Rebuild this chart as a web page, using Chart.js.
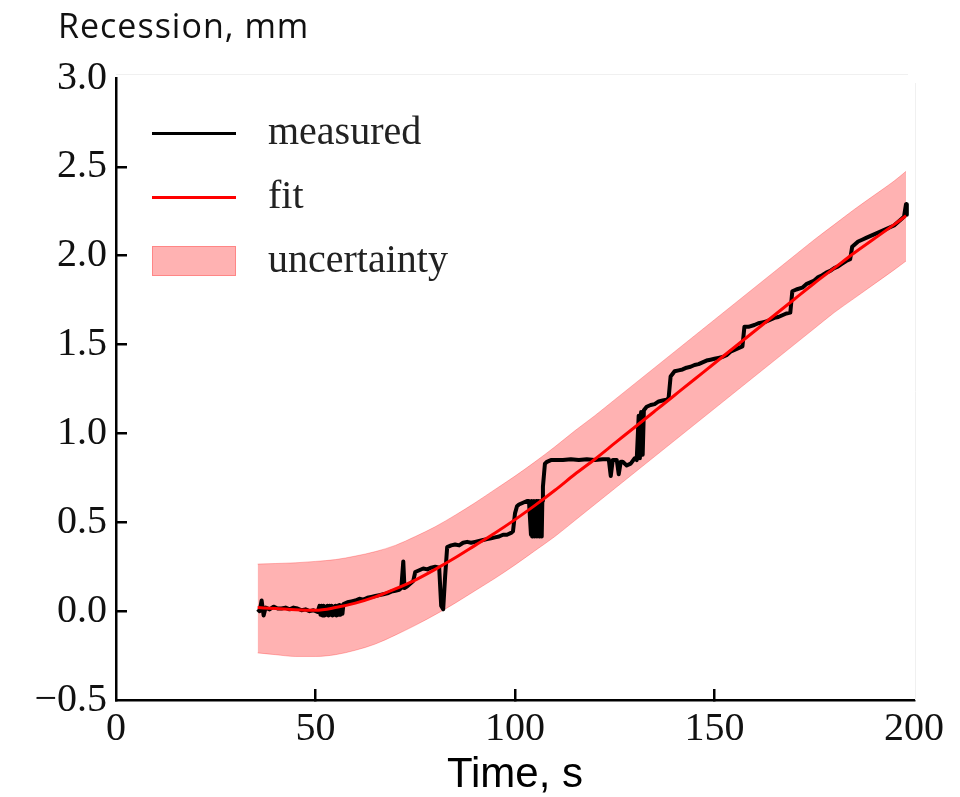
<!DOCTYPE html>
<html>
<head>
<meta charset="utf-8">
<script src="https://cdn.jsdelivr.net/npm/chart.js@4.4.1/dist/chart.umd.min.js"></script>
<style>
  html, body { margin: 0; padding: 0; background: #ffffff; }
  #wrap { width: 960px; height: 797px; }
</style>
</head>
<body>
<div id="wrap"><canvas id="c" width="960" height="797"></canvas></div>
<script>
// ---------------- data ----------------
const yAxisTitle = 'Recession, mm';
const xAxisTitle = 'Time, s';
const seriesLabels = ['measured', 'fit', 'uncertainty'];
const xTicks = [0, 50, 100, 150, 200];
const yTicks = [-0.5, 0.0, 0.5, 1.0, 1.5, 2.0, 2.5, 3.0];

const measuredTime = [
  35.5, 36.0, 36.5, 37.0, 37.5, 38.5, 39.5, 40.5, 41.5, 42.5, 43.5, 44.5, 45.5, 46.5, 47.5, 48.5, 49.5, 50.5,
  51.0, 51.25, 51.5, 51.75, 52.0, 52.25, 52.5, 52.75, 53.0, 53.25, 53.5, 53.75, 54.0, 54.25, 54.5, 54.75,
  55.0, 55.25, 55.5, 55.75, 56.0, 56.25, 56.5, 56.75, 57.0, 58.0, 59.0, 60.0,
  61.0, 62.0, 63.0, 64.0, 65.0, 66.0, 67.0, 68.0, 69.0, 70.0, 71.0, 71.5, 72.0, 72.3, 73.0, 74.0, 74.5,
  75.0, 76.0, 77.0, 78.0, 79.0, 80.0, 81.0, 81.5, 82.0, 82.5, 83.0, 84.0, 85.0, 86.0, 87.0, 88.0, 89.0,
  90.0, 91.0, 92.0, 93.0, 94.0, 95.0, 96.0, 97.0, 98.0, 99.0, 99.5, 100.0, 100.5, 101.0, 102.0, 103.0,
  103.5, 104.0, 104.15, 104.3, 104.45, 104.6, 104.75, 104.9, 105.05, 105.2, 105.35, 105.5, 105.65, 105.8,
  105.95, 106.1, 106.25, 106.4, 106.55, 106.7, 106.85, 107.0, 107.5, 108.0,
  109.0, 110.0, 112.0, 114.0, 116.0, 118.0, 120.0, 122.0, 123.5, 124.0, 124.5, 125.5, 126.0, 126.5,
  127.0, 128.0, 129.0, 130.0, 130.5, 131.0, 131.3, 131.6, 132.0, 132.3, 133.0, 134.0, 135.0, 136.0,
  137.0, 138.0, 138.5, 139.0, 140.0, 141.0, 142.0, 143.0, 144.0, 145.0, 146.0, 147.0, 148.0, 149.0,
  150.0, 151.0, 152.0, 153.0, 154.0, 155.0, 156.0, 157.0, 157.5, 158.5, 160.0, 161.0, 162.0, 163.0,
  164.0, 165.0, 166.0, 167.0, 168.0, 169.0, 169.5, 170.5, 172.0, 173.0, 174.0, 175.0, 176.0, 177.0,
  178.0, 179.0, 180.0, 181.0, 182.0, 183.0, 184.0, 184.5, 185.0, 186.0, 187.0, 188.0, 189.0, 190.0,
  191.0, 192.0, 193.0, 194.0, 195.0, 196.0, 197.0, 197.5, 198.0, 198.2
];
const measuredRecession = [
  0.01, 0.00, 0.06, -0.025, 0.02, 0.01, 0.025, 0.015, 0.015, 0.02, 0.01, 0.02, 0.015, 0.005, 0.01, 0.0, 0.005, -0.005,
  0.03, -0.02, 0.03, -0.025, 0.03, -0.025, 0.025, -0.02, 0.03, -0.025, 0.03, -0.02, 0.03, -0.025, 0.025, -0.02,
  0.03, -0.025, 0.03, -0.02, 0.035, -0.02, 0.03, -0.015, 0.04, 0.05, 0.055, 0.06,
  0.07, 0.065, 0.075, 0.08, 0.085, 0.09, 0.095, 0.10, 0.11, 0.115, 0.12, 0.13, 0.28, 0.13, 0.14, 0.16, 0.17,
  0.22, 0.23, 0.24, 0.235, 0.245, 0.25, 0.245, 0.03, 0.01, 0.20, 0.36, 0.37, 0.375, 0.37, 0.385, 0.39, 0.385,
  0.39, 0.395, 0.40, 0.405, 0.41, 0.415, 0.42, 0.43, 0.43, 0.44, 0.45, 0.55, 0.59, 0.60, 0.61, 0.62,
  0.62, 0.43, 0.62, 0.42, 0.61, 0.43, 0.62, 0.42, 0.61, 0.43, 0.62, 0.42, 0.61, 0.43,
  0.62, 0.42, 0.61, 0.43, 0.62, 0.42, 0.62, 0.70, 0.83, 0.84,
  0.85, 0.85, 0.85, 0.855, 0.85, 0.855, 0.85, 0.855, 0.855, 0.76, 0.85, 0.85, 0.77, 0.84,
  0.84, 0.82, 0.83, 0.86, 0.85, 1.10, 0.86, 1.12, 0.88, 1.13, 1.15, 1.16, 1.165, 1.18,
  1.185, 1.19, 1.20, 1.32, 1.35, 1.355, 1.36, 1.37, 1.375, 1.385, 1.39, 1.40, 1.41, 1.415,
  1.42, 1.425, 1.43, 1.44, 1.46, 1.47, 1.48, 1.49, 1.60, 1.60, 1.61, 1.62, 1.625, 1.63,
  1.64, 1.65, 1.655, 1.665, 1.675, 1.68, 1.80, 1.81, 1.82, 1.84, 1.85, 1.86, 1.88, 1.89,
  1.905, 1.915, 1.93, 1.94, 1.955, 1.97, 1.98, 2.05, 2.06, 2.08, 2.09, 2.10, 2.11, 2.12,
  2.13, 2.14, 2.15, 2.16, 2.17, 2.19, 2.21, 2.22, 2.29, 2.23
];

const fitTime = [35.5, 40, 45, 50, 55, 60, 65, 70, 75, 80, 85, 90, 95, 100, 105, 110, 115, 120, 125, 130,
  135, 140, 145, 150, 155, 160, 165, 170, 175, 180, 185, 190, 195, 198];
const fitRecession = [0.02, 0.015, 0.008, 0.005, 0.02, 0.045, 0.08, 0.125, 0.175, 0.235, 0.30, 0.37, 0.44,
  0.515, 0.595, 0.68, 0.77, 0.855, 0.945, 1.035, 1.125, 1.215, 1.305, 1.395, 1.485, 1.575, 1.665, 1.755,
  1.845, 1.93, 2.015, 2.095, 2.175, 2.225];
const bandUpper = [0.265, 0.268, 0.272, 0.28, 0.29, 0.31, 0.335, 0.37, 0.42, 0.475, 0.54, 0.61, 0.685, 0.76,
  0.84, 0.925, 1.015, 1.10, 1.19, 1.28, 1.37, 1.46, 1.55, 1.64, 1.73, 1.82, 1.91, 2.0, 2.09, 2.175, 2.26,
  2.34, 2.42, 2.475];
const bandLower = [-0.235, -0.245, -0.255, -0.255, -0.245, -0.22, -0.185, -0.135, -0.08, -0.02, 0.045, 0.115,
  0.185, 0.26, 0.34, 0.42, 0.51, 0.60, 0.69, 0.78, 0.87, 0.96, 1.05, 1.14, 1.23, 1.32, 1.41, 1.50, 1.59,
  1.68, 1.76, 1.84, 1.92, 1.97];

// ---------------- build ----------------
const toXY = (xs, ys) => xs.map((x, i) => ({ x: x, y: ys[i] }));
const serif = '"Liberation Serif", "DejaVu Serif", serif';
const BLACK = '#000000', RED = '#ff0000', PINK = 'rgba(255,0,0,0.3)', PINK_EDGE = 'rgba(255,0,0,0.25)';

// legend marker images (84 px wide handles, like the reference legend)
function markerLine(color) {
  const c = document.createElement('canvas'); c.width = 84; c.height = 3;
  const g = c.getContext('2d'); g.fillStyle = color; g.fillRect(0, 0, 84, 3); return c;
}
function markerPatch(fill, edge) {
  const c = document.createElement('canvas'); c.width = 84; c.height = 30;
  const g = c.getContext('2d'); g.fillStyle = fill; g.fillRect(0, 0, 84, 30);
  g.strokeStyle = edge; g.lineWidth = 1; g.strokeRect(0.5, 0.5, 83, 29); return c;
}
const legendMarkers = [markerLine(BLACK), markerLine(RED), markerPatch(PINK, PINK_EDGE)];

const extrasPlugin = {
  id: 'extras',
  afterLayout(chart) {
    // place the legend block inside the axes like the reference
    const lg = chart.legend, a = chart.chartArea;
    if (lg && a) {
      const h = lg.height, w = lg.width;
      lg.left = a.left; lg.top = a.top + 11;
      lg.right = lg.left + w; lg.bottom = lg.top + h;
    }
  },
  beforeDatasetsDraw(chart) {
    const { ctx, chartArea: a } = chart;
    ctx.save();
    ctx.strokeStyle = '#f0f0f0';
    ctx.lineWidth = 1;
    ctx.beginPath();
    ctx.moveTo(a.left, a.top - 3.5); ctx.lineTo(a.right - 6, a.top - 3.5);
    ctx.moveTo(a.right + 1.5, a.top + 5); ctx.lineTo(a.right + 1.5, a.bottom);
    ctx.stroke();
    ctx.restore();
  },
  afterDraw(chart) {
    const ctx = chart.ctx;
    ctx.save();
    ctx.font = '34px "Open Sans", "Noto Sans", sans-serif';
    try { ctx.letterSpacing = '1px'; } catch (e) {}
    ctx.fillStyle = '#111';
    ctx.textBaseline = 'alphabetic';
    ctx.textAlign = 'left';
    ctx.fillText(yAxisTitle, 58, 38);
    ctx.restore();
  }
};

const fmtY = v => (v < 0 ? '\u2212' : '') + Math.abs(v).toFixed(1);

new Chart(document.getElementById('c'), {
  type: 'line',
  data: {
    datasets: [
      { label: seriesLabels[0], data: toXY(measuredTime, measuredRecession), borderColor: BLACK,
        backgroundColor: BLACK, borderWidth: 4, pointRadius: 0, tension: 0, order: 1, fill: false,
        borderJoinStyle: 'round' },
      { label: seriesLabels[1], data: toXY(fitTime, fitRecession), borderColor: RED,
        backgroundColor: RED, borderWidth: 3, pointRadius: 0, tension: 0.4,
        cubicInterpolationMode: 'monotone', order: 0, fill: false },
      { label: seriesLabels[2], data: toXY(fitTime, bandUpper), borderColor: PINK_EDGE,
        backgroundColor: PINK, borderWidth: 1, pointRadius: 0,
        cubicInterpolationMode: 'monotone', order: 2, fill: '+1' },
      { label: 'lower', data: toXY(fitTime, bandLower), borderColor: PINK_EDGE,
        backgroundColor: PINK, borderWidth: 1, pointRadius: 0,
        cubicInterpolationMode: 'monotone', order: 3, fill: false }
    ]
  },
  options: {
    responsive: false,
    animation: false,
    devicePixelRatio: 1,
    layout: { padding: { top: 78, right: 44, left: 0, bottom: 0 } },
    plugins: {
      tooltip: { enabled: false },
      title: { display: false },
      legend: {
        display: true,
        position: 'chartArea',
        align: 'start',
        labels: {
          usePointStyle: true,
          pointStyleWidth: 108,
          boxWidth: 108,
          boxHeight: 30,
          padding: 24,
          color: '#222',
          font: { family: serif, size: 40 },
          filter: item => item.datasetIndex !== 3,
          sort: (a, b) => a.datasetIndex - b.datasetIndex,
          generateLabels: chart => {
            const items = Chart.defaults.plugins.legend.labels.generateLabels(chart);
            items.forEach(it => { if (legendMarkers[it.datasetIndex]) it.pointStyle = legendMarkers[it.datasetIndex]; });
            return items;
          }
        }
      }
    },
    scales: {
      x: {
        type: 'linear', min: 0, max: 200,
        afterFit: s => { s.height = 97; },
        afterBuildTicks: s => { s.ticks = xTicks.map(v => ({ value: v })); },
        ticks: { color: '#111', padding: 16, font: { family: serif, size: 40, lineHeight: 1.2 }, maxRotation: 0,
                 callback: v => String(v) },
        grid: { drawOnChartArea: false, drawTicks: true, tickLength: -11, lineWidth: 2.5,
                color: c => (c.tick && (c.tick.value === 200 || c.tick.value === 0)) ? 'rgba(0,0,0,0)' : '#000' },
        border: { display: true, color: '#000', width: 2.5 },
        title: { display: true, text: xAxisTitle, color: '#000',
                 font: { family: '"Liberation Sans", Arial, sans-serif', size: 42, lineHeight: 1 },
                 padding: { top: 0, bottom: 1 } }
      },
      y: {
        type: 'linear', min: -0.5, max: 3.0,
        afterFit: s => { s.width = 116; },
        afterBuildTicks: s => { s.ticks = yTicks.map(v => ({ value: v })); },
        ticks: { color: '#111', padding: 20, font: { family: serif, size: 40, lineHeight: 1.2 }, callback: fmtY },
        grid: { drawOnChartArea: false, drawTicks: true, tickLength: -11, lineWidth: 2.5,
                color: c => (c.tick && (c.tick.value === 3 || c.tick.value === -0.5)) ? 'rgba(0,0,0,0)' : '#000' },
        border: { display: true, color: '#000', width: 2.5 }
      }
    }
  },
  plugins: [extrasPlugin]
});
</script>
</body>
</html>
